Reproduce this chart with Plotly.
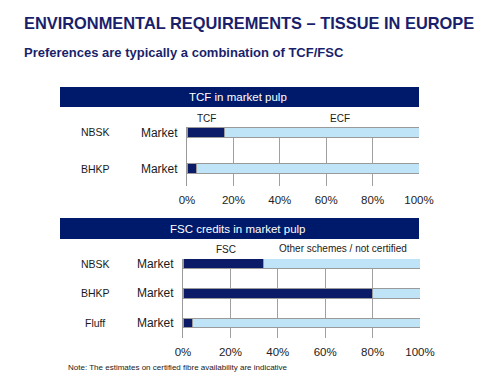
import plotly.graph_objects as go

# Data
tcf_cats = ["NBSK", "BHKP"]
tcf_vals = [16, 4]
ecf_vals = [84, 96]
fsc_cats = ["NBSK", "BHKP", "Fluff"]
fsc_vals = [34, 80, 4]
other_vals = [66, 20, 96]
x_ticks = [0, 20, 40, 60, 80, 100]
x_ticklabels = ["0%", "20%", "40%", "60%", "80%", "100%"]

NAVY = "#0b1b68"
LIGHT = "#bfe4f8"
W, H = 500, 385
FONT = "Liberation Sans, Arial, sans-serif"

def px(x):
    return x / W

def py(y):
    return 1 - y / H

fig = go.Figure()

line = dict(color="#9a9a9a", width=1)
fig.add_trace(go.Bar(y=tcf_cats, x=tcf_vals, orientation="h", marker=dict(color=NAVY, line=line),
                     width=0.3, xaxis="x", yaxis="y", showlegend=False, hoverinfo="skip"))
fig.add_trace(go.Bar(y=tcf_cats, x=ecf_vals, orientation="h", marker=dict(color=LIGHT, line=line),
                     width=0.3, xaxis="x", yaxis="y", showlegend=False, hoverinfo="skip"))
fig.add_trace(go.Bar(y=fsc_cats, x=fsc_vals, orientation="h", marker=dict(color=NAVY, line=line),
                     width=0.33, xaxis="x2", yaxis="y2", showlegend=False, hoverinfo="skip"))
fig.add_trace(go.Bar(y=fsc_cats, x=other_vals, orientation="h", marker=dict(color=LIGHT, line=line),
                     width=0.33, xaxis="x2", yaxis="y2", showlegend=False, hoverinfo="skip"))

xcommon = dict(range=[0, 100], tickvals=x_ticks, ticktext=x_ticklabels, showgrid=True,
               gridcolor="#a0a0a0", gridwidth=1, zeroline=False, showline=False, automargin=False,
               ticklabelstandoff=5,
               tickfont=dict(family=FONT, size=11.5, color="#222222"), ticks="", fixedrange=True)
ycommon = dict(type="category", automargin=False, showgrid=False, ticklabelstandoff=6,
               showline=True, linecolor="#9a9a9a", linewidth=1, zeroline=False,
               tickfont=dict(family=FONT, size=12, color="#1a1a1a"), ticks="", fixedrange=True)

# top chart: plot area y 127..186 px ; NBSK center 132.5, BHKP 168.5 -> 36 px/unit
t_top, t_bot = 127, 186
c0, step = 132.5, 36.0
fig.update_layout(
    xaxis=dict(domain=[px(187), px(419)], anchor="y", **xcommon),
    yaxis=dict(domain=[py(t_bot), py(t_top)], anchor="x",
               categoryarray=tcf_cats, tickvals=tcf_cats, ticktext=["Market"] * len(tcf_cats),
               range=[(t_bot - c0) / step, (t_top - c0) / step], **ycommon),
)

# bottom chart: plot area y 259..338 px ; NBSK 263.5, BHKP 293.5, Fluff 323
b_top, b_bot = 259, 338
d0, dstep = 263.5, 29.75
fig.update_layout(
    xaxis2=dict(domain=[px(183), px(420)], anchor="y2", **xcommon),
    yaxis2=dict(domain=[py(b_bot), py(b_top)], anchor="x2",
                categoryarray=fsc_cats, tickvals=fsc_cats, ticktext=["Market"] * len(fsc_cats),
                range=[(b_bot - d0) / dstep, (b_top - d0) / dstep], **ycommon),
)

fig.update_layout(
    template="none",
    barmode="stack",
    width=W, height=H,
    margin=dict(l=0, r=0, t=0, b=0, pad=0),
    paper_bgcolor="white", plot_bgcolor="white",
)

shapes = []
annotations = []
# header bars
for (y0, y1, text) in [(87, 107, "TCF in market pulp"), (218, 239, "FSC credits in market pulp")]:
    shapes.append(dict(type="rect", xref="paper", yref="paper", x0=px(60), x1=px(419),
                       y0=py(y1), y1=py(y0), fillcolor="#001a6b", line=dict(width=0), layer="below"))
    annotations.append(dict(xref="paper", yref="paper", x=px(238), y=py((y0 + y1) / 2), text=text,
                            showarrow=False, font=dict(family=FONT, size=11.5, color="white"),
                            xanchor="center", yanchor="middle"))

# title and subtitle
annotations.append(dict(xref="paper", yref="paper", x=px(22), y=py(23),
                        text="<b>ENVIRONMENTAL REQUIREMENTS – TISSUE IN EUROPE</b>", showarrow=False,
                        font=dict(family=FONT, size=16.4, color="#1a1f6b"), xanchor="left", yanchor="middle"))
annotations.append(dict(xref="paper", yref="paper", x=px(22), y=py(52),
                        text="<b>Preferences are typically a combination of TCF/FSC</b>", showarrow=False,
                        font=dict(family=FONT, size=13, color="#1a1f6b"), xanchor="left", yanchor="middle"))

# category labels (left column)
for i, c in enumerate(tcf_cats):
    annotations.append(dict(xref="paper", yref="paper", x=px(95), y=py(c0 + i * step), text=c,
                            showarrow=False, font=dict(family=FONT, size=10.5, color="#1a1a1a"),
                            xanchor="center", yanchor="middle"))
for i, c in enumerate(fsc_cats):
    annotations.append(dict(xref="paper", yref="paper", x=px(95), y=py(d0 + i * dstep), text=c,
                            showarrow=False, font=dict(family=FONT, size=10.5, color="#1a1a1a"),
                            xanchor="center", yanchor="middle"))

# series labels
for (x, y, t) in [(206, 118, "TCF"), (340, 118, "ECF"), (226, 249, "FSC"),
                  (343, 248, "Other schemes / not certified")]:
    annotations.append(dict(xref="paper", yref="paper", x=px(x), y=py(y), text=t, showarrow=False,
                            font=dict(family=FONT, size=10, color="#1a1a1a"),
                            xanchor="center", yanchor="middle"))

# note
annotations.append(dict(xref="paper", yref="paper", x=px(66), y=py(367),
                        text="Note: The estimates on certified fibre availability are indicative",
                        showarrow=False, font=dict(family=FONT, size=8, color="#1a1a1a"),
                        xanchor="left", yanchor="middle"))

fig.update_layout(shapes=shapes, annotations=annotations)

fig.write_html("out.html", config={"displayModeBar": False},
               post_script="document.body.style.margin='0px';")
